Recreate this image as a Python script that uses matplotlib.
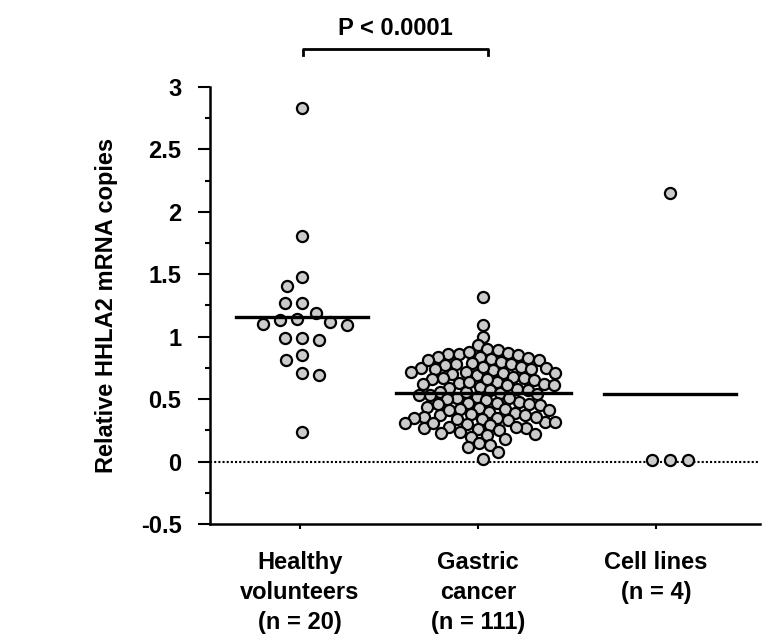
# HHLA2 mRNA expression - scatter dot plot with mean lines
import matplotlib.pyplot as plt
import numpy as np

plt.rcParams['font.family'] = ['Liberation Sans', 'DejaVu Sans']
plt.rcParams['font.weight'] = 'bold'

# Categories
groups = ["Healthy\nvolunteers\n(n = 20)", "Gastric\ncancer\n(n = 111)", "Cell lines\n(n = 4)"]

# Values
healthy = [2.83, 1.81, 1.48, 1.41, 1.27, 1.27, 1.19, 1.14, 1.10, 1.13,
           1.12, 1.09, 0.99, 0.97, 0.99, 0.85, 0.81, 0.71, 0.69, 0.24]

gastric = [1.32, 1.09, 1.00, 0.93,
           0.90, 0.89, 0.87, 0.86, 0.86, 0.85, 0.84, 0.84, 0.83, 0.82, 0.81, 0.80,
           0.79, 0.78, 0.78, 0.77, 0.76, 0.75, 0.75, 0.74, 0.73, 0.72, 0.72, 0.71, 0.70,
           0.69, 0.68, 0.67, 0.67, 0.66, 0.65, 0.64, 0.63, 0.62, 0.62, 0.61, 0.60,
           0.59, 0.58, 0.57, 0.57, 0.56, 0.55, 0.54, 0.53, 0.53, 0.52, 0.51, 0.50,
           0.49, 0.48, 0.47, 0.47, 0.46, 0.45, 0.44, 0.43, 0.42, 0.42, 0.41, 0.40,
           0.39, 0.38, 0.37, 0.37, 0.36, 0.35, 0.35, 0.34, 0.33, 0.32, 0.32, 0.31, 0.30,
           0.29, 0.28, 0.27, 0.27, 0.26, 0.25, 0.24, 0.23, 0.22, 0.21, 0.20,
           0.18, 0.15, 0.13, 0.12, 0.08, 0.02,
           0.88, 0.81, 0.76, 0.71, 0.66, 0.61, 0.56, 0.51, 0.46, 0.41,
           0.36, 0.31, 0.28, 0.34, 0.74, 0.64]

cell_lines = [2.15, 0.01, 0.01, 0.01]

series = [healthy, gastric, cell_lines]
p_text = "P < 0.0001"

# layout
group_x = [0.01, 1.03, 2.08]
line_half = [0.37, 0.49, 0.37]
swarm_gap = [17, 10.5, 18]  # px between dot centres


def swarm(vals, ax, gap):
    # simple beeswarm in pixel space, returns x offsets in data units
    x0, y0 = ax.transData.transform((0, 0))
    x1, y1 = ax.transData.transform((1, 1))
    sx, sy = x1 - x0, y1 - y0
    placed = []
    offs = np.zeros(len(vals))
    for i in np.argsort(vals)[::-1]:
        y = vals[i] * sy
        blocked = []
        for px, py in placed:
            dy = abs(py - y)
            if dy < gap:
                w = np.sqrt(gap ** 2 - dy ** 2)
                blocked.append((px - w, px + w))
        cands = [0.0] + [b for iv in blocked for b in iv]
        cands.sort(key=abs)
        for c in cands:
            if all(not (lo + 1e-6 < c < hi - 1e-6) for lo, hi in blocked):
                break
        placed.append((c, y))
        offs[i] = c / sx
    return offs


fig = plt.figure(figsize=(7.62, 6.34), dpi=100)
ax = fig.add_axes([0.2756, 0.1735, 0.7218, 0.6893])
ax.set_xlim(-0.506, 2.584)
ax.set_ylim(-0.5, 3)

for sp in ['top', 'right']:
    ax.spines[sp].set_visible(False)
for sp in ['left', 'bottom']:
    ax.spines[sp].set_linewidth(1.8)

ax.axhline(0, color='black', lw=1.5, ls=(0, (1, 1)), zorder=1)

for k, vals in enumerate(series):
    vals = np.array(vals)
    xs = group_x[k] + swarm(vals, ax, swarm_gap[k])
    ax.plot(xs, vals, 'o', ms=8, mfc='#cbcbcb', mec='black', mew=1.6,
            zorder=2, clip_on=False)
    m = vals.mean()
    ax.plot([group_x[k] - line_half[k], group_x[k] + line_half[k]], [m, m],
            color='black', lw=2.4, zorder=3)

ax.set_yticks(np.arange(-0.5, 3.01, 0.5))
ax.set_yticklabels(["-0.5", "0", "0.5", "1", "1.5", "2", "2.5", "3"])
ax.set_yticks(np.arange(-0.25, 3.0, 0.5), minor=True)
ax.tick_params(axis='y', which='major', length=8.6, width=1.5, pad=12,
               labelsize=17)
ax.tick_params(axis='y', which='minor', length=3.6, width=1.5)

ax.set_xticks(range(3))
ax.set_xticklabels(groups, fontsize=17, linespacing=1.38)
ax.tick_params(axis='x', length=3.6, width=1.5, pad=16)

ax.set_ylabel("Relative HHLA2 mRNA copies", fontsize=17, fontweight='bold',
              labelpad=16)

# significance bracket
ax.plot([0.017, 0.017, 1.056, 1.056], [3.26, 3.305, 3.305, 3.26],
        color='black', lw=2, clip_on=False)
ax.text(0.537, 3.47, p_text, ha='center', va='center', fontsize=17,
        fontweight='bold')

plt.savefig('out.png', dpi=100)
